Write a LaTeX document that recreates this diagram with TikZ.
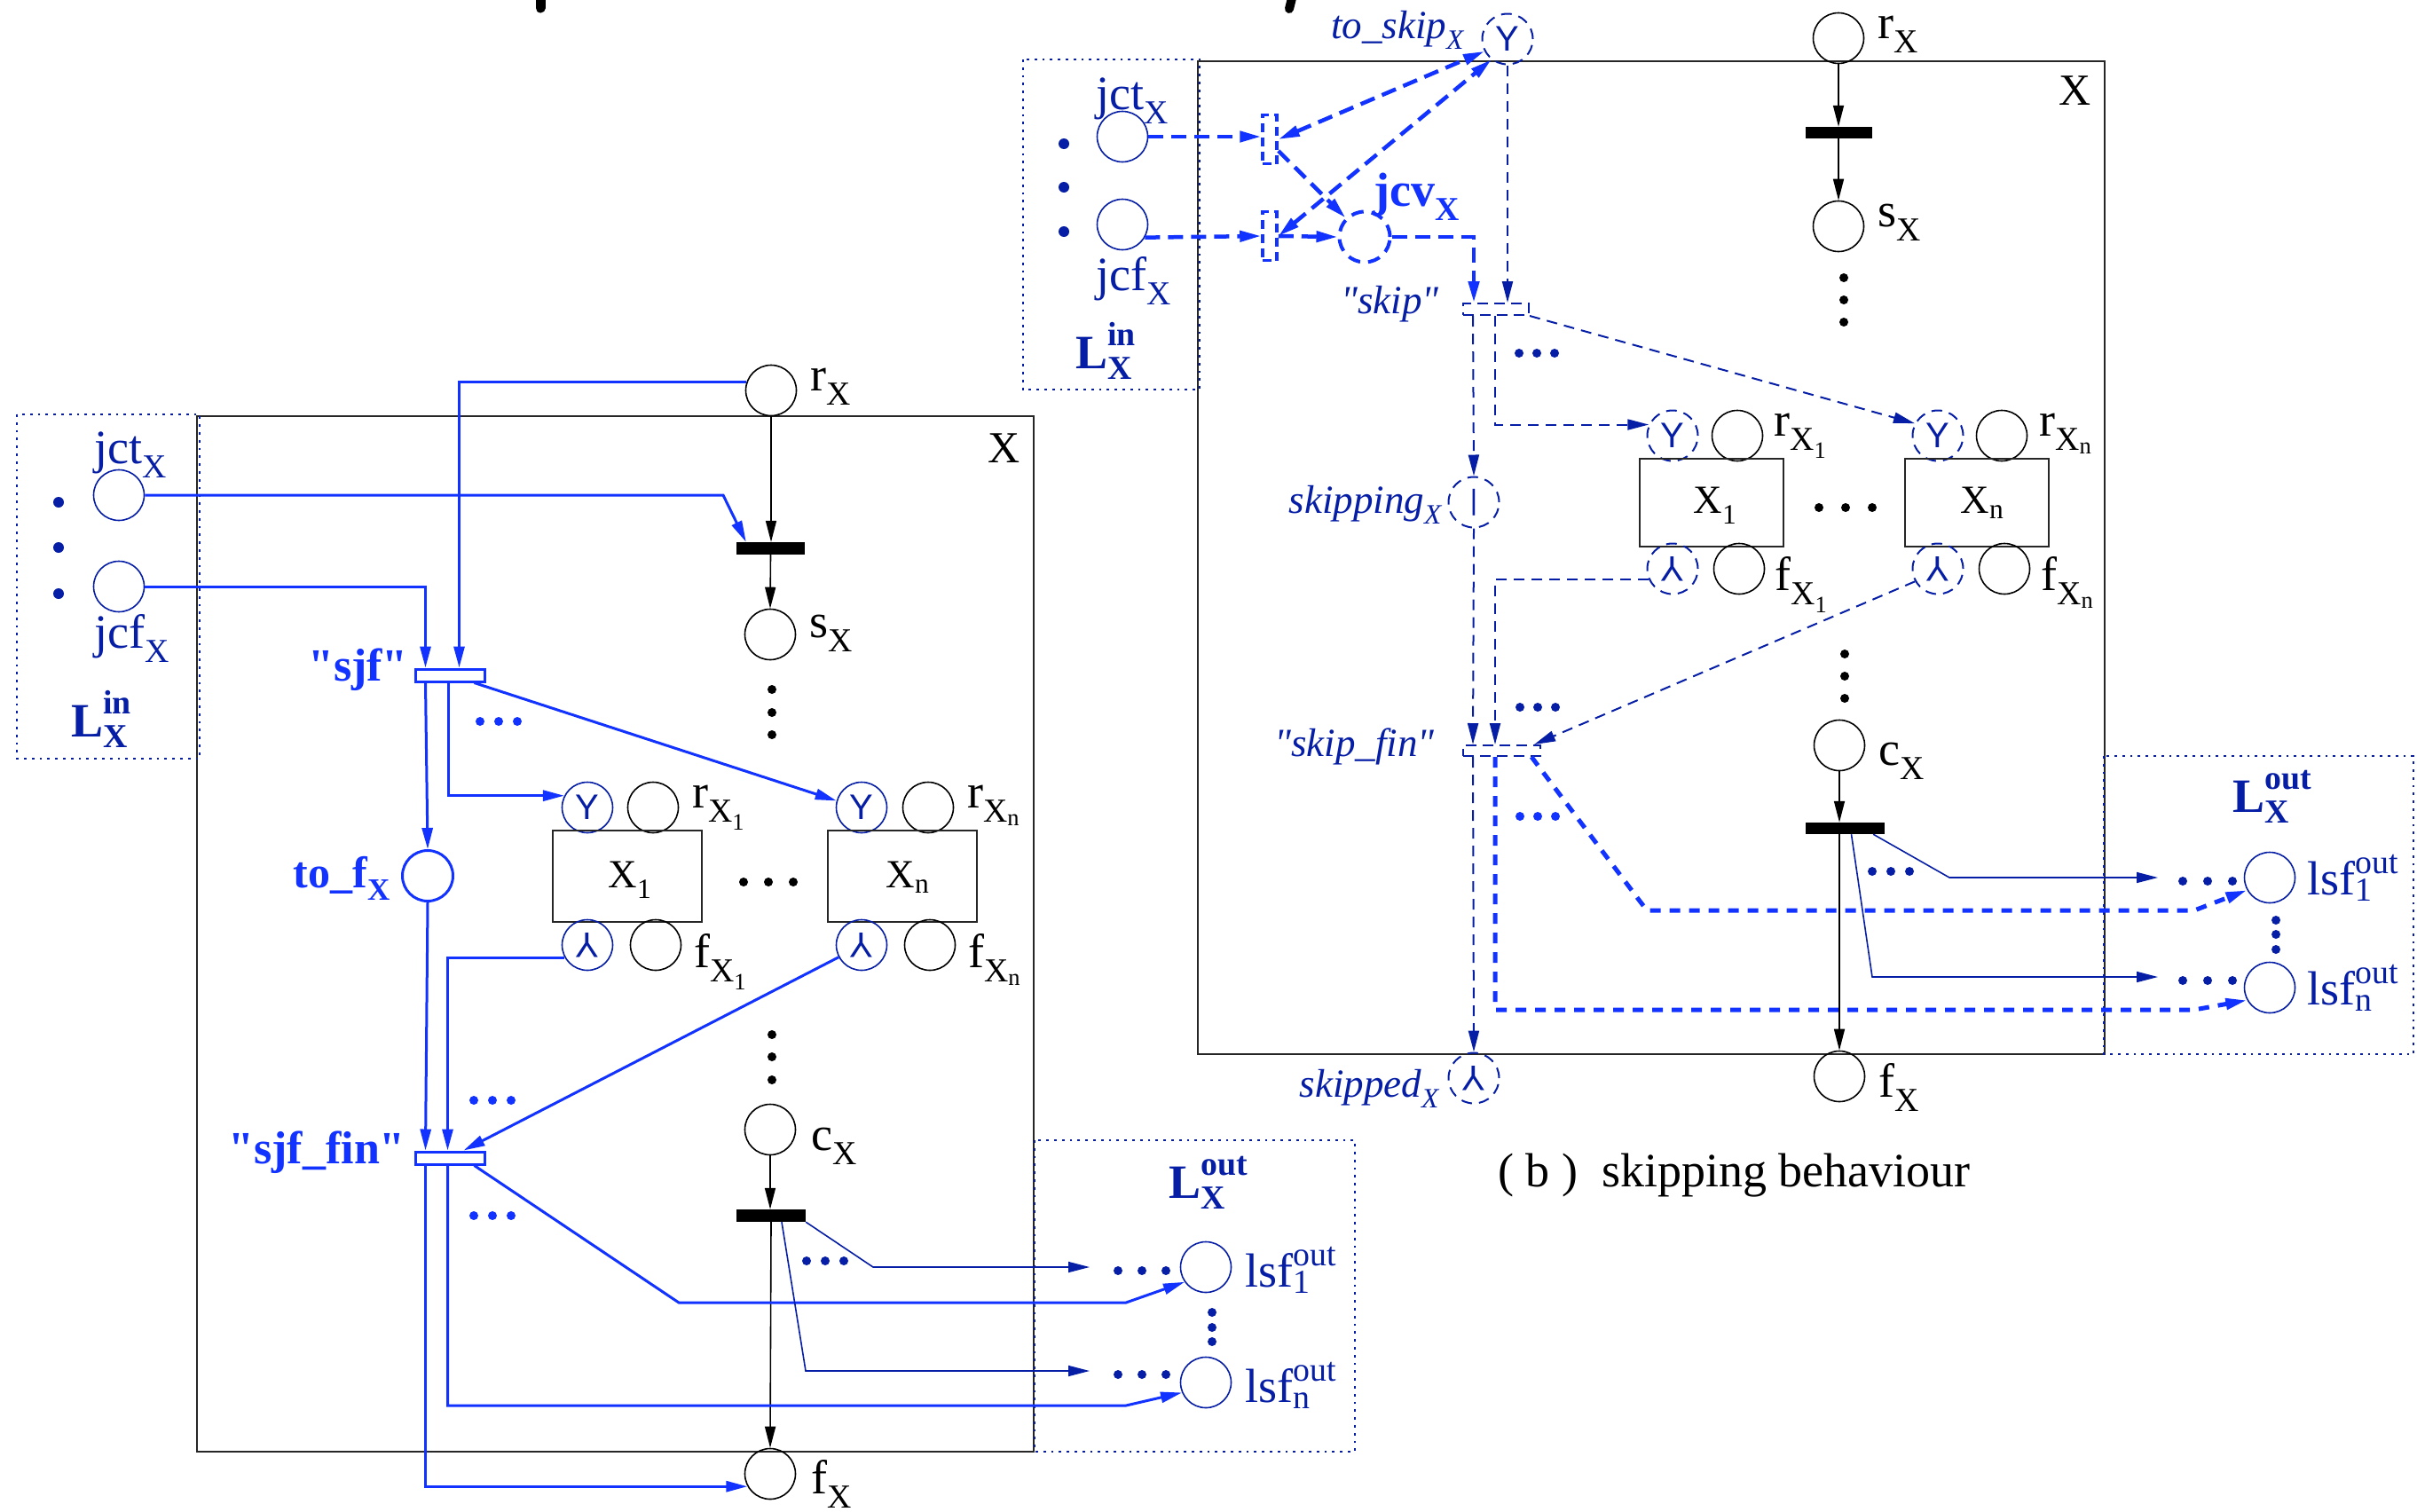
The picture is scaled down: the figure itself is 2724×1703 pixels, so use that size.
\documentclass[tikz,border=0pt]{standalone}
\usepackage{graphicx}
\usepackage{fontspec}
\setmainfont{Liberation Serif}[Ligatures=TeXOff]
\setsansfont{Liberation Sans}[Ligatures=TeXOff]
\usetikzlibrary{arrows.meta,calc}
\definecolor{bb}{RGB}{18,50,255}
\definecolor{db}{RGB}{5,30,165}
\newcommand\Sb[1]{\textsubscript{#1}}
\newcommand\SbSp[2]{\rlap{\raisebox{-0.24em}{\scalebox{0.7}{#1}}}\raisebox{0.47em}{\scalebox{0.7}{#2}}}
\newcommand\SbSpl[2]{\rlap{\raisebox{-0.13em}{\scalebox{0.7}{#1}}}\raisebox{0.44em}{\scalebox{0.7}{#2}}}
\newcommand\fs[1]{\fontsize{#1}{#1}\selectfont}
\newcommand\yinv{\scalebox{1}[-1]{Y}}
\newcommand\dotsH[5]{\fill[#5] ({#1-#3},#2) circle (#4) (#1,#2) circle (#4) ({#1+#3},#2) circle (#4);}
\tikzset{
  arr/.style={-{Triangle[length=24pt,width=12pt]}},
  arr2/.style={{Triangle[length=24pt,width=12pt]}-{Triangle[length=24pt,width=12pt]}},
  boxline/.style={draw=black!85,line width=2.2pt},
  dotbox/.style={draw=db,line width=2.8pt,dash pattern=on 2.8pt off 6pt},
  pl/.style={circle,draw=black,line width=1.6pt,minimum size=57pt,inner sep=0pt},
  dpl/.style={pl,draw=db,text=db,font=\sffamily\fs{40}},
  dpld/.style={dpl,line width=2pt,dash pattern=on 12pt off 8pt},
  bpl/.style={pl,draw=bb,line width=3pt},
  jcvpl/.style={pl,draw=bb,line width=4pt,dash pattern=on 14pt off 9pt},
  blackbar/.style={rectangle,fill=black,draw=none,minimum height=14pt,inner sep=0pt},
  trbb/.style={rectangle,draw=bb,fill=white,line width=3pt,minimum width=78pt,minimum height=14pt,inner sep=0pt},
  trd/.style={rectangle,draw=db,line width=2pt,dash pattern=on 12pt off 7pt,inner sep=0pt},
  trbd/.style={rectangle,draw=bb,line width=3.5pt,dash pattern=on 10pt off 6pt,minimum width=16pt,minimum height=55pt,inner sep=0pt},
  subbox/.style={rectangle,draw=black!85,line width=2pt,inner sep=0pt},
  lab/.style={inner sep=0pt,font=\fs{54}},
  blab/.style={inner sep=0pt,font=\fs{54}\bfseries},
  ilab/.style={inner sep=0pt,font=\fs{45}\itshape,text=db},
  bl/.style={draw=bb,line width=3pt},
  dl/.style={draw=db,line width=1.6pt},
  blk/.style={draw=black,line width=1.6pt},
  bd/.style={draw=bb,line width=4.5pt,dash pattern=on 17pt off 9pt},
  bdd/.style={draw=bb,line width=5pt,dash pattern=on 12pt off 10pt},
  dd/.style={draw=db,line width=2pt,dash pattern=on 12pt off 8pt}
}
\begin{document}
\begin{tikzpicture}[x=1pt,y=-1pt]
\useasboundingbox (0,0) rectangle (2724,1703);
% cut-off title fragments
\draw[line width=11pt,line cap=round] (609,-6) -- (609,9);
\draw[line width=10pt,line cap=round] (1457,-6) -- (1453,10);

% ================= LEFT PART =================
\draw[boxline] (222,469) rectangle (1165,1636);
\draw[dotbox] (19,467) rectangle (225,855);
\draw[dotbox] (1166,1285) rectangle (1527,1636);
\node[lab,anchor=base east,font=\fs{50}] (XlabL) at (1150,521) {X};

\node[pl] (rXL) at (869,440) {};
\node[lab,anchor=base west] (rXLl) at (913,440) {r\Sb{X}};
\node[blackbar,minimum width=77pt] (barL1) at (868.5,618) {};
\node[pl] (sXL) at (868,715) {};
\node[lab,anchor=base west] (sXLl) at (912,718) {s\Sb{X}};
\fill (870,777) circle (5) (870,803) circle (5) (870,828) circle (5);

\node[dpl] (jctL) at (134,558) {};
\node[lab,text=db,anchor=base west] (jctLl) at (106,522) {jct\Sb{X}};
\node[dpl] (jcfL) at (134,661) {};
\node[lab,text=db,anchor=base west] (jcfLl) at (106,730) {jcf\Sb{X}};
\fill[db] (66,566) circle (6) (66,617) circle (6) (66,669) circle (6);
\node[blab,text=db,anchor=base west] (LinL) at (80,830) {L\SbSp{X}{in}};

\node[trbb] (sjf) at (507,761) {};
\node[blab,text=bb,font=\fs{52}\bfseries,anchor=base east] (sjfl) at (460,767) {"sjf"};
\node[bpl] (tofL) at (482,987) {};
\node[blab,text=bb,font=\fs{50}\bfseries,anchor=base east] (tofLl) at (440,1000) {to\_f\Sb{X}};

\node[dpl] (Y1L) at (662,910) {Y};
\node[pl] (r1L) at (736,910) {};
\node[lab,anchor=base west] (r1Ll) at (780,910) {r\Sb{X\Sb{1}}};
\node[subbox,minimum width=168pt,minimum height=103pt] (X1L) at (707,987.5) {};
\node[lab,font=\fs{45},anchor=base] (X1Ll) at (710,1000) {X\Sb{1}};
\node[dpl] (YnL) at (971,910) {Y};
\node[pl] (rnL) at (1046,910) {};
\node[lab,anchor=base west] (rnLl) at (1090,910) {r\Sb{X\Sb{n}}};
\node[subbox,minimum width=168pt,minimum height=103pt] (XnL) at (1017,987.5) {};
\node[lab,font=\fs{45},anchor=base] (XnLl) at (1023,1000) {X\Sb{n}};
\dotsH{866}{994}{28}{5}{black}
\node[dpl] (B1L) at (662,1065) {\yinv};
\node[pl] (f1L) at (739,1065) {};
\node[lab,anchor=base west] (f1Ll) at (782,1090) {f\Sb{X\Sb{1}}};
\node[dpl] (BnL) at (971,1065) {\yinv};
\node[pl] (fnL) at (1048,1065) {};
\node[lab,anchor=base west] (fnLl) at (1091,1090) {f\Sb{X\Sb{n}}};

\dotsH{562}{813}{21}{5}{bb}
\dotsH{555}{1240}{21}{5}{bb}
\dotsH{555}{1370}{21}{5}{bb}
\fill (870,1166) circle (5) (870,1191) circle (5) (870,1217) circle (5);

\node[trbb] (sjffin) at (507,1305) {};
\node[blab,text=bb,font=\fs{52}\bfseries,anchor=base east] (sjffinl) at (457,1311) {"sjf\_fin"};
\node[pl] (cXL) at (868,1273) {};
\node[lab,anchor=base west] (cXLl) at (914,1296) {c\Sb{X}};
\node[blackbar,minimum width=78pt] (barL2) at (869,1370) {};
\node[pl] (fXL) at (868,1661) {};
\node[lab,anchor=base west] (fXLl) at (914,1683) {f\Sb{X}};

\node[dpl] (lsf1L) at (1359,1428) {};
\node[lab,text=db,anchor=base west] (lsf1Ll) at (1403,1450) {lsf\SbSpl{1}{out}};
\node[dpl] (lsfnL) at (1359,1558) {};
\node[lab,text=db,anchor=base west] (lsfnLl) at (1403,1580) {lsf\SbSpl{n}{out}};
\fill[db] (1366,1479) circle (5) (1366,1496) circle (5) (1366,1512) circle (5);
\node[blab,text=db,anchor=base west] (LoutL) at (1317,1350) {L\SbSp{X}{out}};
\dotsH{930}{1421}{21}{5}{db}
\dotsH{1287}{1432}{27}{5}{db}
\dotsH{1287}{1549}{27}{5}{db}
\coordinate (a1) at (1228,1428);
\coordinate (a2) at (1228,1545);

% left connectors
\draw[blk,arr] (rXL.south) -- (rXL.south |- barL1.north);
\draw[blk,arr] (barL1.south) -- (sXL.north);
\draw[blk,arr] (cXL.south) -- (cXL.south |- barL2.north);
\draw[blk,arr] (barL2.south) -- (fXL.north);
\draw[bl,arr] (jctL.east) -- (815,558) -- ($(barL1.north west)+(11,0)$);
\draw[bl,arr] (jcfL.east) -| ($(sjf.north west)+(13,0)$);
\draw[bl,arr] (rXL.162) -| ($(sjf.north west)+(51,0)$);
\draw[bl,arr] ($(sjf.south west)+(13,0)$) -- (tofL.north);
\draw[bl,arr] ($(sjf.south west)+(39,0)$) |- (Y1L.153);
\draw[bl,arr] ($(sjf.south east)+(-13,0)$) -- (YnL.165);
\draw[bl,arr] (tofL.south) -- ($(sjffin.north west)+(13,0)$);
\draw[bl,arr] (B1L.209) -| ($(sjffin.north west)+(38,0)$);
\draw[bl,arr] (BnL.208) -- ($(sjffin.north east)+(-25,0)$);
\draw[bl,arr] ($(sjffin.south east)+(-13,0)$) -- (765,1468) -- (1269,1468) -- (lsf1L.215);
\draw[bl,arr] ($(sjffin.south west)+(38,0)$) |- (1269,1584) -- (lsfnL.203);
\draw[bl,arr] ($(sjffin.south west)+(13,0)$) |- (fXL.209);
\draw[dl,arr] (barL2.south east) -- (984,1428) -- (a1);
\draw[dl,arr] ($(barL2.south)+(12,0)$) -- (908,1545) -- (a2);

% ================= RIGHT PART =================
\draw[boxline] (1350,69) rectangle (2372,1188);
\draw[dotbox] (1153,67) rectangle (1352,439);
\draw[dotbox] (2371,852) rectangle (2720,1188);
\node[lab,anchor=base east,font=\fs{50}] (XlabR) at (2357,118) {X};

\node[dpl] (jctR) at (1265,154) {};
\node[lab,text=db,anchor=base west] (jctRl) at (1235,123) {jct\Sb{X}};
\node[dpl] (jcfR) at (1265,253) {};
\node[lab,text=db,anchor=base west] (jcfRl) at (1235,327) {jcf\Sb{X}};
\fill[db] (1199,162) circle (6) (1199,211) circle (6) (1199,261) circle (6);
\node[blab,text=db,anchor=base west] (LinR) at (1212,415) {L\SbSp{X}{in}};

\node[dpld] (tsk) at (1699,44) {Y};
\node[ilab,anchor=base east] (tskl) at (1650,43) {to\_skip\Sb{X}};
\node[trbd] (tU) at (1431,157) {};
\node[trbd] (tL) at (1431,266) {};
\node[jcvpl] (jcv) at (1538,267) {};
\node[blab,text=bb,anchor=base west] (jcvl) at (1548,232) {jcv\Sb{X}};
\node[trd,minimum width=74pt,minimum height=13pt] (skipT) at (1686,348.5) {};
\node[ilab,anchor=base east] (skipl) at (1622,353) {"skip"};
\node[dpld,font=\sffamily\fs{32}] (skpg) at (1661,566) {\textbar};
\node[ilab,anchor=base east] (skpgl) at (1625,578) {skipping\Sb{X}};
\dotsH{1732}{398}{20}{5}{db}

\node[dpld] (Y1R) at (1885,491) {Y};
\node[pl] (r1R) at (1958,491) {};
\node[lab,anchor=base west] (r1Rl) at (1999,491) {r\Sb{X\Sb{1}}};
\node[subbox,minimum width=162pt,minimum height=99pt] (X1R) at (1929,566.5) {};
\node[lab,font=\fs{45},anchor=base] (X1Rl) at (1933,578) {X\Sb{1}};
\node[dpld] (YnR) at (2184,491) {Y};
\node[pl] (rnR) at (2256,491) {};
\node[lab,anchor=base west] (rnRl) at (2298,491) {r\Sb{X\Sb{n}}};
\node[subbox,minimum width=162pt,minimum height=99pt] (XnR) at (2228,566.5) {};
\node[lab,font=\fs{45},anchor=base] (XnRl) at (2234,578) {X\Sb{n}};
\dotsH{2080}{572}{30}{5}{black}
\node[dpld] (B1R) at (1885,641) {\yinv};
\node[pl] (f1R) at (1960,641) {};
\node[lab,anchor=base west] (f1Rl) at (2000,665) {f\Sb{X\Sb{1}}};
\node[dpld] (BnR) at (2184,641) {\yinv};
\node[pl] (fnR) at (2259,641) {};
\node[lab,anchor=base west] (fnRl) at (2300,665) {f\Sb{X\Sb{n}}};

\node[trd,minimum width=87pt,minimum height=12pt] (skfin) at (1692.5,846) {};
\node[ilab,anchor=base east] (skfinl) at (1617,852) {"skip\_fin"};
\dotsH{1733}{797}{20}{5}{db}
\dotsH{1733}{920}{20}{5}{bb}
\node[dpld] (skpd) at (1661,1215) {\yinv};
\node[ilab,anchor=base east] (skpdl) at (1622,1236) {skipped\Sb{X}};

\node[pl] (rXR) at (2072,43) {};
\node[lab,anchor=base west] (rXRl) at (2116,43) {r\Sb{X}};
\node[blackbar,minimum width=75pt,minimum height=13pt] (barR1) at (2072.5,149.5) {};
\node[pl] (sXR) at (2072,255) {};
\node[lab,anchor=base west] (sXRl) at (2116,255) {s\Sb{X}};
\fill (2078,313) circle (5) (2078,338) circle (5) (2078,363) circle (5);
\fill (2079,737) circle (5) (2079,762) circle (5) (2079,787) circle (5);
\node[pl] (cXR) at (2073,840) {};
\node[lab,anchor=base west] (cXRl) at (2117,862) {c\Sb{X}};
\node[blackbar,minimum width=89pt,minimum height=13pt] (barR2) at (2079.5,933.5) {};
\node[pl] (fXR) at (2073,1213) {};
\node[lab,anchor=base west] (fXRl) at (2117,1236) {f\Sb{X}};
\dotsH{2131}{982}{21}{5}{db}

\node[dpl] (lsf1R) at (2558,989) {};
\node[lab,text=db,anchor=base west] (lsf1Rl) at (2600,1008) {lsf\SbSpl{1}{out}};
\node[dpl] (lsfnR) at (2558,1113) {};
\node[lab,text=db,anchor=base west] (lsfnRl) at (2600,1132) {lsf\SbSpl{n}{out}};
\fill[db] (2565,1037) circle (5) (2565,1053) circle (5) (2565,1070) circle (5);
\node[blab,text=db,anchor=base west] (LoutR) at (2516,915) {L\SbSp{X}{out}};
\dotsH{2488}{993}{28}{5}{db}
\dotsH{2488}{1105}{28}{5}{db}
\coordinate (a3) at (2432,989);
\coordinate (a4) at (2432,1101);

\node[lab,anchor=base west] (caption) at (1688,1337) {( b )\ \ skipping behaviour};

% right connectors
\draw[bd,arr] (jctR.east) -- (jctR.east -| tU.west);
\draw[bd,arr] (jcfR.-30) -- (tL.west);
\draw[bd,arr2] (tU.east) -- (tsk.208);
\draw[bd,arr2] (tL.east) -- (tsk.232);
\draw[bd,arr] ($(tU.east)+(0,13)$) -- (jcv.135);
\draw[bd,arr] (tL.east) -- (jcv.west);
\draw[bd,arr] (jcv.east) -| ($(skipT.north west)+(13,0)$);
\draw[dd,arr] (tsk.south) -- (tsk.south |- skipT.north);
\draw[dd,arr] ($(skipT.south west)+(12,0)$) -- (skpg.north);
\draw[dd,arr] ($(skipT.south west)+(37,0)$) |- (Y1R.155);
\draw[dd,arr] (skipT.south east) -- (YnR.152);
\draw[dd,arr] (B1R.205) -| ($(skfin.north west)+(37,0)$);
\draw[dd,arr] (skpg.south) -- ($(skfin.north west)+(12,0)$);
\draw[dd,arr] (BnR.209) -- ($(skfin.north east)+(-8,0)$);
\draw[dd,arr] ($(skfin.south west)+(12,0)$) -- (skpd.north);
\draw[bdd,arr] ($(skfin.south east)+(-11,0)$) -- (1856,1026) -- (2473,1026) -- (lsf1R.209);
\draw[bdd,arr] ($(skfin.south west)+(37,0)$) |- (2473,1138) -- (lsfnR.209);
\draw[blk,arr] (rXR.south) -- (rXR.south |- barR1.north);
\draw[blk,arr] (barR1.south -| sXR.north) -- (sXR.north);
\draw[blk,arr] (cXR.south) -- (cXR.south |- barR2.north);
\draw[blk,arr] (barR2.south -| fXR.north) -- (fXR.north);
\draw[dl,arr] ($(barR2.south east)+(-13,0)$) -- (2197,989) -- (a3);
\draw[dl,arr] ($(barR2.south)+(7,0)$) -- (2110,1101) -- (a4);
\end{tikzpicture}
\end{document}
